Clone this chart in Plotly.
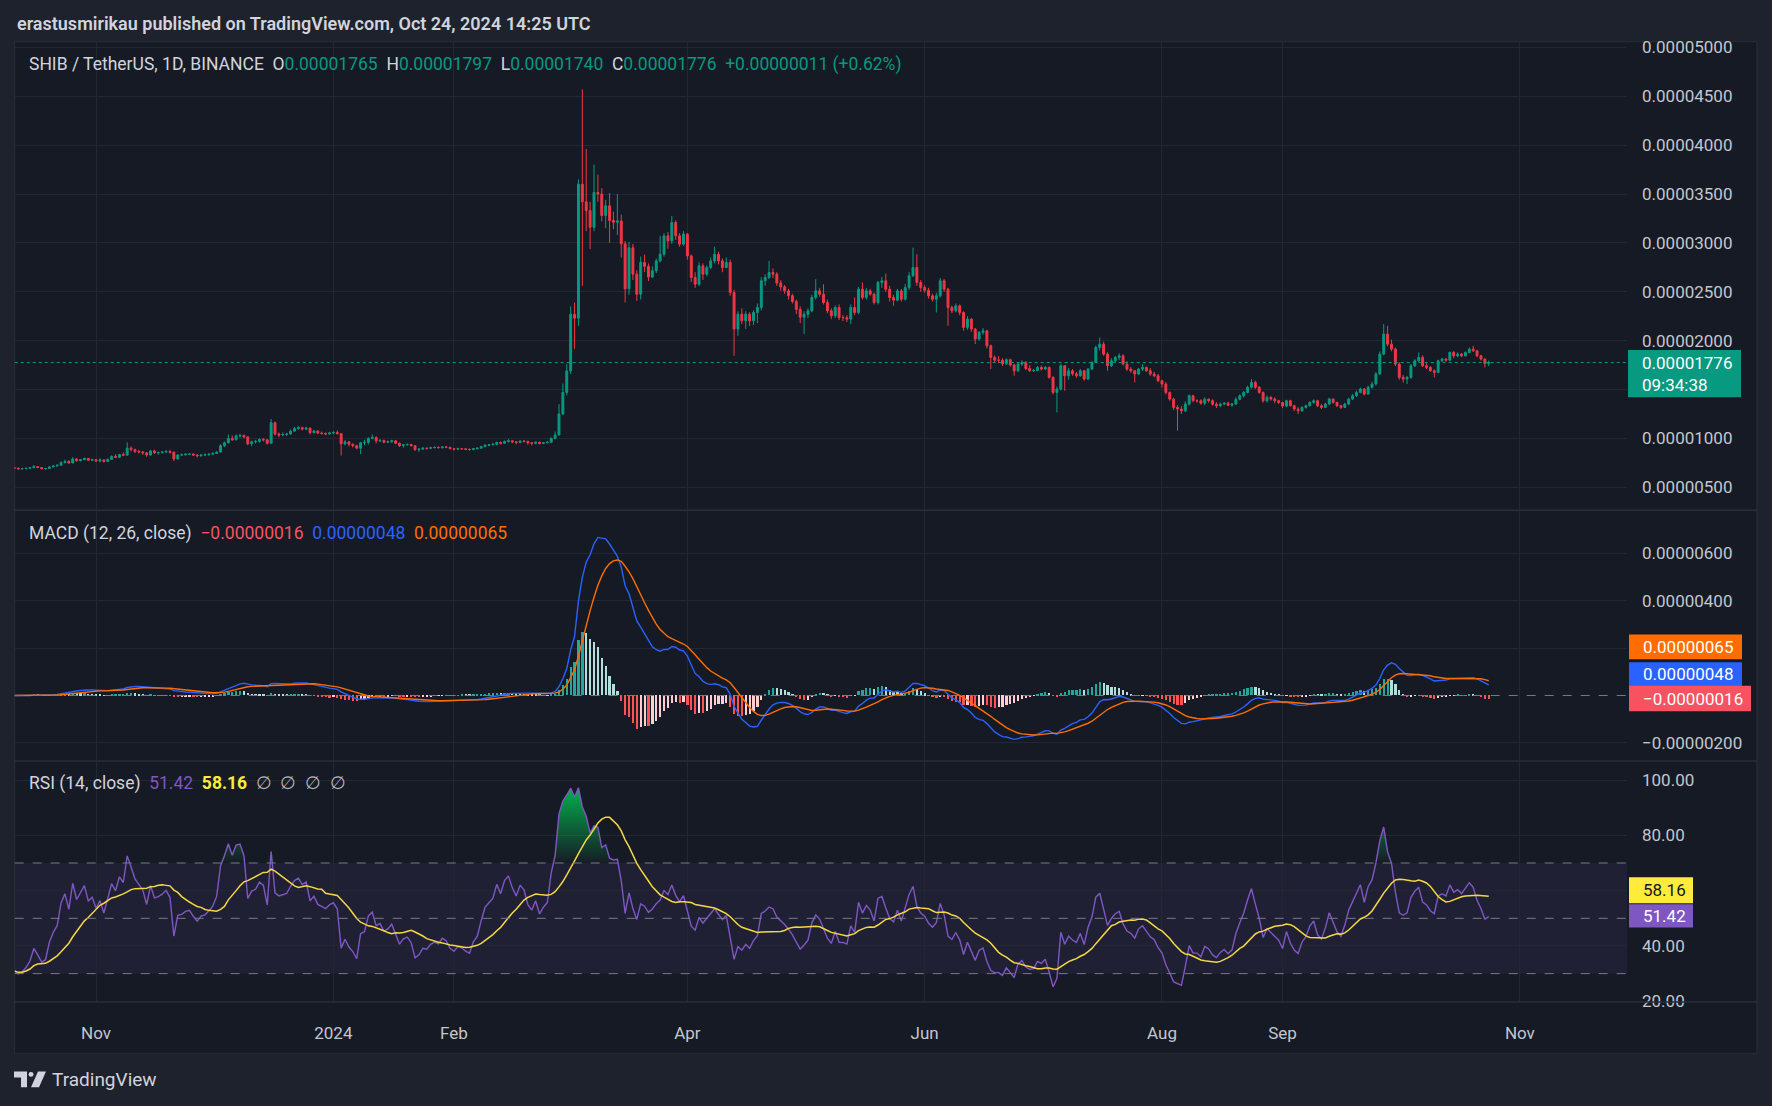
import numpy as np
import pandas as pd
import plotly.graph_objects as go

# ---------------- DATA (prices in units of 1e-8 USDT) ----------------
UNIT = 1e-8
START_DATE = "2023-10-11"
FIRST_OPEN = 700
RSI_START = 31.0   # RSI level read at the left edge of the reference

close_oct23 = [695,688,690,694,700,712,702,690,692,708,718,725,752,765,748,790,770,782,795,776,782]
high_oct23 = [712,702,698,700,706,728,716,706,698,716,726,734,766,782,778,808,796,790,802,798,792]
low_oct23 = [684,680,682,686,690,696,694,684,680,688,704,712,720,744,740,746,764,768,778,770,772]

close_nov23 = [768,780,764,785,815,806,835,828,900,885,868,860,852,830,872,852,855,860,868,858,790,830,832,838,840,830,822,830,832,838]
high_nov23 = [790,796,784,794,826,838,842,858,960,918,896,880,872,860,882,884,866,868,876,878,866,838,846,850,848,846,838,840,846,846]
low_nov23 = [760,756,752,760,780,798,800,820,826,868,850,846,832,812,824,840,834,846,852,846,768,782,818,824,830,820,806,812,822,826]

close_dec23 = [845,860,925,955,1000,985,1025,1030,1015,945,965,970,990,985,950,1160,1045,1035,1040,1045,1075,1100,1110,1095,1105,1060,1075,1055,1050,1045,1055]
high_dec23 = [858,868,940,968,1040,1030,1042,1048,1040,1020,978,985,1000,1004,990,1198,1172,1060,1062,1058,1090,1118,1126,1120,1118,1110,1088,1085,1070,1062,1068]
low_dec23 = [832,840,855,912,948,975,980,1008,1000,930,920,948,955,968,938,945,1030,1010,1022,1025,1038,1066,1088,1080,1084,1040,1050,1044,1038,1032,1040]

close_jan24 = [1060,1048,945,965,940,925,900,955,960,1000,1010,975,980,960,965,975,950,925,935,938,925,885,890,900,898,905,908,905,912,908,895]
high_jan24 = [1074,1082,1056,982,972,948,934,962,985,1012,1040,1022,990,985,978,986,980,958,942,948,944,930,902,910,906,914,916,918,920,924,914]
low_jan24 = [1044,1040,823,930,918,908,888,840,930,938,990,950,962,950,952,956,940,912,905,926,918,872,860,882,884,890,898,896,896,900,886]

close_feb24 = [890,895,893,888,885,895,900,915,930,935,940,958,950,968,975,965,958,972,968,955,950,960,948,955,960,1000,1035,1250,1470]
high_feb24 = [900,904,902,898,896,902,908,924,940,942,952,966,968,978,992,984,972,980,982,978,962,968,966,962,972,1010,1070,1350,1560]
low_feb24 = [876,884,886,880,874,880,886,896,910,922,928,930,936,944,958,952,940,950,958,936,928,940,938,942,950,952,990,1030,1240]

close_mar24 = [1690,2270,2230,3600,3420,3330,3160,3515,3500,3280,3380,3230,3210,3225,2990,2530,2950,2680,2475,2800,2760,2650,2714,2816,2884,3072,3020,3208,3072,2987,3090]
high_mar24 = [1760,2350,2390,3650,4570,3960,3420,3800,3700,3560,3440,3510,3320,3500,3290,3020,3010,2990,2720,2860,2880,2790,2760,2840,3070,3100,3110,3276,3230,3100,3120]
low_mar24 = [1440,1660,1914,2152,2560,3120,2935,3120,3420,3220,3150,3000,3140,3080,2850,2390,2470,2620,2405,2420,2700,2610,2640,2690,2800,2860,2940,2990,3030,2960,2970]

close_apr24 = [2867,2646,2578,2765,2680,2748,2816,2884,2816,2748,2800,2493,2118,2271,2203,2271,2203,2288,2340,2612,2646,2697,2680,2590,2550,2510,2460,2400,2320,2240]
high_apr24 = [3100,2880,2700,2800,2790,2770,2850,2960,2910,2840,2850,2830,2520,2300,2330,2300,2290,2310,2380,2650,2680,2816,2740,2700,2620,2570,2530,2480,2420,2350]
low_apr24 = [2830,2600,2540,2560,2620,2660,2730,2790,2780,2700,2740,2460,1845,2050,2170,2120,2150,2160,2180,2310,2560,2630,2640,2560,2510,2480,2420,2380,2270,2180]

close_may24 = [2270,2305,2441,2509,2475,2390,2305,2254,2339,2237,2235,2220,2339,2288,2526,2441,2509,2475,2390,2595,2612,2526,2441,2414,2509,2424,2543,2663,2748,2595,2543]
high_may24 = [2300,2330,2470,2629,2540,2577,2420,2330,2360,2370,2260,2260,2370,2441,2550,2595,2540,2530,2490,2612,2650,2686,2560,2470,2530,2530,2580,2700,2952,2884,2620]
low_may24 = [2067,2230,2290,2420,2450,2370,2280,2220,2230,2210,2200,2190,2169,2260,2270,2420,2420,2460,2370,2370,2540,2500,2400,2356,2400,2400,2410,2520,2650,2560,2500]

close_jun24 = [2516,2458,2424,2458,2612,2526,2339,2305,2356,2288,2135,2220,2118,2016,2084,2100,1947,1828,1800,1800,1765,1805,1750,1692,1760,1777,1715,1692,1695,1726]
high_jun24 = [2570,2540,2480,2490,2640,2630,2540,2360,2380,2370,2300,2250,2230,2130,2100,2130,2110,1960,1850,1840,1820,1820,1815,1765,1775,1800,1790,1750,1710,1740]
low_jun24 = [2490,2430,2400,2288,2440,2500,2152,2280,2290,2260,2100,2110,2090,1965,2000,2060,1920,1709,1780,1770,1740,1750,1735,1641,1680,1740,1700,1680,1680,1685]

close_jul24 = [1709,1726,1624,1470,1505,1743,1641,1692,1660,1641,1692,1607,1709,1777,1930,1964,1862,1743,1794,1828,1845,1760,1709,1692,1658,1709,1726,1692,1658,1641,1590]
high_jul24 = [1745,1740,1735,1635,1530,1760,1750,1720,1710,1680,1710,1700,1720,1790,1950,2033,1990,1880,1820,1845,1870,1860,1790,1730,1700,1720,1760,1735,1720,1680,1660]
low_jul24 = [1695,1700,1610,1450,1266,1490,1487,1600,1640,1620,1630,1590,1600,1700,1770,1900,1845,1692,1730,1780,1800,1745,1690,1670,1573,1650,1690,1680,1640,1625,1575]

close_aug24 = [1556,1470,1402,1317,1300,1283,1351,1436,1385,1385,1360,1400,1385,1350,1334,1351,1360,1340,1351,1400,1436,1470,1522,1573,1522,1470,1385,1419,1402,1385,1368]
high_aug24 = [1600,1575,1480,1415,1340,1330,1380,1450,1445,1400,1400,1420,1410,1400,1370,1365,1372,1375,1362,1420,1450,1485,1540,1607,1590,1535,1480,1440,1435,1420,1395]
low_aug24 = [1520,1450,1385,1290,1079,1250,1270,1335,1370,1365,1345,1340,1365,1335,1310,1320,1340,1330,1325,1345,1390,1420,1460,1510,1505,1455,1365,1365,1385,1360,1350]

close_sep24 = [1330,1385,1334,1300,1283,1317,1334,1368,1385,1334,1317,1351,1402,1368,1334,1317,1351,1402,1436,1470,1505,1453,1522,1556,1658,1862,2067,1964,1913,1760]
high_sep24 = [1375,1395,1395,1345,1320,1330,1345,1380,1400,1395,1350,1365,1415,1410,1375,1345,1365,1415,1455,1490,1520,1515,1540,1580,1680,1890,2169,2152,2010,1930]
low_sep24 = [1310,1320,1325,1280,1250,1270,1305,1325,1355,1320,1300,1310,1340,1355,1320,1300,1310,1340,1395,1425,1460,1440,1450,1510,1540,1650,1850,1940,1890,1740]

close_oct24 = [1624,1607,1624,1743,1794,1828,1743,1726,1692,1675,1794,1811,1800,1879,1845,1862,1845,1879,1913,1896,1845,1811,1765,1776]
high_oct24 = [1780,1650,1640,1760,1810,1879,1850,1770,1740,1705,1805,1825,1820,1890,1895,1880,1875,1890,1930,1947,1905,1855,1820,1797]
low_oct24 = [1600,1570,1556,1610,1730,1780,1730,1710,1680,1624,1665,1780,1785,1790,1820,1830,1830,1835,1870,1885,1830,1795,1726,1740]

# axis ticks (labels hidden behind value boxes are left blank)
price_ticks = [500, 1000, 1500, 2000, 2500, 3000, 3500, 4000, 4500, 5000]
price_hidden = [1500]
macd_ticks = [-2e-6, 2e-6, 4e-6, 6e-6]
macd_ticktext = ["\u22120.00000200", "", "0.00000400", "0.00000600"]
rsi_ticks = [20, 40, 60, 80, 100]
rsi_ticktext = ["20.00", "40.00", "", "80.00", "100.00"]
time_tickvals = ["2023-11-01", "2024-01-01", "2024-02-01", "2024-04-01",
                 "2024-06-01", "2024-08-01", "2024-09-01", "2024-11-01"]
time_ticktext = ["Nov", "2024", "Feb", "Apr", "Jun", "Aug", "Sep", "Nov"]

# texts shown in the header / value labels
title_text = "erastusmirikau published on TradingView.com, Oct 24, 2024 14:25 UTC"
ohlc_text = ["0.00001765", "0.00001797", "0.00001740", "0.00001776"]
change_text = "+0.00000011 (+0.62%)"
macd_vals_text = ["\u22120.00000016", "0.00000048", "0.00000065"]   # hist, macd, signal
rsi_vals_text = ["51.42", "58.16"]
countdown_text = "09:34:38"

# ---------------- BUILD SERIES ----------------
closes_e8 = sum([close_oct23, close_nov23, close_dec23, close_jan24, close_feb24, close_mar24,
                 close_apr24, close_may24, close_jun24, close_jul24, close_aug24, close_sep24,
                 close_oct24], [])
highs_e8 = sum([high_oct23, high_nov23, high_dec23, high_jan24, high_feb24, high_mar24,
                high_apr24, high_may24, high_jun24, high_jul24, high_aug24, high_sep24,
                high_oct24], [])
lows_e8 = sum([low_oct23, low_nov23, low_dec23, low_jan24, low_feb24, low_mar24,
               low_apr24, low_may24, low_jun24, low_jul24, low_aug24, low_sep24,
               low_oct24], [])

closes = np.array(closes_e8, float) * UNIT
opens = np.concatenate([[FIRST_OPEN * UNIT], closes[:-1]])
highs = np.maximum.reduce([np.array(highs_e8, float) * UNIT, opens, closes])
lows = np.minimum.reduce([np.array(lows_e8, float) * UNIT, opens, closes])
dates = pd.date_range(START_DATE, periods=len(closes), freq="D")
n = len(closes)

s = pd.Series(closes)
macd = s.ewm(span=12, adjust=False).mean() - s.ewm(span=26, adjust=False).mean()
signal = macd.ewm(span=9, adjust=False).mean()
hist = macd - signal
prev = hist.shift(1).fillna(0)
hist_col = np.where(hist >= 0,
                    np.where(hist >= prev, "#26a69a", "#b2dfdb"),
                    np.where(hist < prev, "#ff5252", "#ffcdd2"))

# RSI (Wilder smoothing), seeded so that it starts at the level seen on the reference
d = np.diff(closes, prepend=closes[0])
g = np.clip(d, 0, None)
l = np.clip(-d, 0, None)
seed = np.mean(np.abs(d[1:15]))
ag = np.empty(n)
al = np.empty(n)
al[0] = seed
ag[0] = seed * RSI_START / (100 - RSI_START)
for i in range(1, n):
    ag[i] = ag[i - 1] + (g[i] - ag[i - 1]) / 14
    al[i] = al[i - 1] + (l[i] - al[i - 1]) / 14
rsi = pd.Series(100 - 100 / (1 + ag / al))
rsi_ma = rsi.rolling(14, min_periods=1).mean()

# ---------------- LAYOUT HELPERS ----------------
W, H = 1772, 1106
def px(x): return x / W
def py(y): return 1 - y / H
def Y(ref_y):
    # vertical page position (px) for a position measured on the reference picture
    return 1.1425 * ref_y - 2.97

BG = "#161a25"
OUTER = "#1e222d"
GRID = "#232733"
SEP = "#2a2e39"
TXT = "#d1d4dc"
AX = "#c3c6ce"
FONT = "Roboto"
UP, DOWN = "#089981", "#f23645"

x_range = ["2023-10-11 02:00", "2024-11-28 13:00"]
day_ms = 86400000

P_TOP, P_BOT = Y(36), Y(451)
M_TOP, M_BOT = Y(451), Y(673)
R_TOP, R_BOT = Y(673), Y(886.5)
F_BOT = Y(932)

fig = go.Figure()

fig.add_trace(go.Candlestick(
    x=dates, open=opens, high=highs, low=lows, close=closes,
    increasing=dict(line=dict(color=UP, width=1), fillcolor=UP),
    decreasing=dict(line=dict(color=DOWN, width=1), fillcolor=DOWN),
    whiskerwidth=0, xaxis="x", yaxis="y", hoverinfo="skip"))

fig.add_trace(go.Bar(x=dates, y=hist, marker=dict(color=list(hist_col), line=dict(width=0)),
                     width=day_ms * 0.45, xaxis="x2", yaxis="y2"))
fig.add_trace(go.Scatter(x=dates, y=macd, mode="lines", line=dict(color="#2962ff", width=1.4),
                         xaxis="x2", yaxis="y2"))
fig.add_trace(go.Scatter(x=dates, y=signal, mode="lines", line=dict(color="#ff6d00", width=1.4),
                         xaxis="x2", yaxis="y2"))

# RSI overbought / oversold gradient fills
fig.add_trace(go.Scatter(x=dates, y=np.full(n, 70.0), mode="lines", line=dict(width=0),
                         xaxis="x3", yaxis="y3"))
fig.add_trace(go.Scatter(x=dates, y=np.maximum(rsi, 70), mode="lines", line=dict(width=0),
                         fill="tonexty",
                         fillgradient=dict(type="vertical", start=70, stop=100,
                                           colorscale=[[0, "rgba(0,200,83,0)"], [1, "rgba(0,200,83,0.95)"]]),
                         xaxis="x3", yaxis="y3"))
fig.add_trace(go.Scatter(x=dates, y=np.full(n, 30.0), mode="lines", line=dict(width=0),
                         xaxis="x3", yaxis="y3"))
fig.add_trace(go.Scatter(x=dates, y=np.minimum(rsi, 30), mode="lines", line=dict(width=0),
                         fill="tonexty",
                         fillgradient=dict(type="vertical", start=0, stop=30,
                                           colorscale=[[0, "rgba(242,54,69,0.95)"], [1, "rgba(242,54,69,0)"]]),
                         xaxis="x3", yaxis="y3"))
fig.add_trace(go.Scatter(x=dates, y=rsi, mode="lines", line=dict(color="#7e57c2", width=1.4),
                         xaxis="x3", yaxis="y3"))
fig.add_trace(go.Scatter(x=dates, y=rsi_ma, mode="lines", line=dict(color="#f5d742", width=1.5),
                         xaxis="x3", yaxis="y3"))

xcommon = dict(type="date", range=x_range, tickvals=time_tickvals, showgrid=True, gridcolor=GRID,
               gridwidth=1, zeroline=False, showline=False, fixedrange=True, ticks="",
               domain=[px(14.7), px(1627)])
ycommon = dict(side="right", showgrid=True, gridcolor=GRID, zeroline=False, showline=False,
               ticks="", fixedrange=True, ticklabelstandoff=14,
               tickfont=dict(family=FONT, size=17, color=AX))

fig.update_layout(
    width=W, height=H, margin=dict(l=0, r=0, t=0, b=0),
    paper_bgcolor=OUTER, plot_bgcolor=BG, showlegend=False, hovermode=False,
    font=dict(family=FONT, color=TXT),
    bargap=0,
    xaxis=dict(**xcommon, anchor="y", showticklabels=False, rangeslider=dict(visible=False)),
    xaxis2=dict(**xcommon, anchor="y2", matches="x", showticklabels=False),
    xaxis3=dict(**xcommon, anchor="y3", matches="x", showticklabels=True, ticktext=time_ticktext,
                ticklabelstandoff=int(round(Y(913) - R_BOT - 11)), tickfont=dict(family=FONT, size=17, color=AX)),
    yaxis=dict(**ycommon, anchor="x", domain=[py(P_BOT), py(P_TOP)], range=[264.5 * UNIT, 5058 * UNIT],
               tickvals=[v * UNIT for v in price_ticks],
               ticktext=["" if v in price_hidden else "%.8f" % (v * UNIT) for v in price_ticks]),
    yaxis2=dict(**ycommon, anchor="x2", domain=[py(M_BOT), py(M_TOP)], range=[-2.76e-6, 7.81e-6],
                tickvals=macd_ticks, ticktext=macd_ticktext),
    yaxis3=dict(**ycommon, anchor="x3", domain=[py(R_BOT), py(R_TOP)], range=[19.75, 106.9],
                tickvals=rsi_ticks, ticktext=rsi_ticktext),
)

shapes = []
# chart frame
shapes.append(dict(type="rect", xref="paper", yref="paper", x0=px(14.7), x1=px(1757), y0=py(F_BOT), y1=py(P_TOP),
                   fillcolor=BG, line=dict(color=SEP, width=1), layer="below"))
# pane separators
for yy in [P_BOT, M_BOT, R_BOT]:
    shapes.append(dict(type="line", xref="paper", yref="paper", x0=px(14.7), x1=px(1757), y0=py(yy), y1=py(yy),
                       line=dict(color=SEP, width=1.5)))
# RSI band
shapes.append(dict(type="rect", xref="x3 domain", yref="y3", x0=0, x1=1, y0=30, y1=70,
                   fillcolor="rgba(126,87,194,0.10)", line=dict(width=0), layer="below"))
for lv in [70, 50, 30]:
    shapes.append(dict(type="line", xref="x3 domain", yref="y3", x0=0, x1=1, y0=lv, y1=lv,
                       line=dict(color="#787b86", width=1, dash="dash")))
# MACD zero line
shapes.append(dict(type="line", xref="x2 domain", yref="y2", x0=0, x1=1, y0=0, y1=0,
                   line=dict(color="#787b86", width=1, dash="dash")))
# last price dotted line
shapes.append(dict(type="line", xref="x domain", yref="y", x0=0, x1=1, y0=closes[-1], y1=closes[-1],
                   line=dict(color=UP, width=1, dash="dot")))

annotations = []

def label_box(x0, x1, ry0, ry1, color, text, tcolor="white"):
    y0, y1 = Y(ry0), Y(ry1)
    shapes.append(dict(type="rect", xref="paper", yref="paper", x0=px(x0), x1=px(x1), y0=py(y1), y1=py(y0),
                       fillcolor=color, line=dict(width=0)))
    annotations.append(dict(xref="paper", yref="paper", x=px(x0 + 12), y=py((y0 + y1) / 2),
                            xanchor="left", yanchor="middle", showarrow=False, text=text, align="left",
                            font=dict(family=FONT, size=17, color=tcolor)))

label_box(1628, 1741, 309, 351, UP, "%.8f" % closes[-1] + "<br>" + countdown_text)
label_box(1629, 1742, 561, 583, "#ff6d00", macd_vals_text[2])
label_box(1629, 1742, 585.5, 607, "#2962ff", macd_vals_text[1])
label_box(1629, 1751, 606.5, 629, "#f7525f", macd_vals_text[0])
label_box(1629, 1693, 776, 799, "#ffeb3b", rsi_vals_text[1], tcolor="#131722")
label_box(1629, 1693, 800, 820.5, "#7e57c2", rsi_vals_text[0])

NB = "\u00a0"
def span(t, c):
    return '<span style="color:%s">%s</span>' % (c, t)

annotations.append(dict(xref="paper", yref="paper", x=px(14.7), y=py(Y(20)), xanchor="left", yanchor="middle",
                        showarrow=False, text=title_text, font=dict(family=FONT, size=18, color=TXT, weight=600)))

ohlc_line = ("SHIB / TetherUS, 1D, BINANCE" + NB * 2 +
             "O" + span(ohlc_text[0], UP) + NB * 2 + "H" + span(ohlc_text[1], UP) + NB * 2 +
             "L" + span(ohlc_text[2], UP) + NB * 2 + "C" + span(ohlc_text[3], UP) + NB * 2 +
             span(change_text, UP))
annotations.append(dict(xref="paper", yref="paper", x=px(27), y=py(Y(56)), xanchor="left", yanchor="middle",
                        showarrow=False, text=ohlc_line, font=dict(family=FONT, size=17.5, color=TXT)))

macd_line_txt = ("MACD (12, 26, close)" + NB * 2 + span(macd_vals_text[0], "#f7525f") + NB * 2 +
                 span(macd_vals_text[1], "#2962ff") + NB * 2 + span(macd_vals_text[2], "#ff6d00"))
annotations.append(dict(xref="paper", yref="paper", x=px(27), y=py(Y(472)), xanchor="left", yanchor="middle",
                        showarrow=False, text=macd_line_txt, font=dict(family=FONT, size=17.5, color=TXT)))

rsi_line_txt = ("RSI (14, close)" + NB * 2 + span(rsi_vals_text[0], "#7e57c2") + NB * 2 +
                span("<b>" + rsi_vals_text[1] + "</b>", "#ffeb3b") + NB * 2 +
                span((NB * 2).join(["\u2205"] * 4), "#b2b5be"))
annotations.append(dict(xref="paper", yref="paper", x=px(27), y=py(Y(693)), xanchor="left", yanchor="middle",
                        showarrow=False, text=rsi_line_txt, font=dict(family=FONT, size=17.5, color=TXT)))

# TradingView logo
LT, LB = Y(948), Y(962)
LM = LT + (LB - LT) * 0.38
def ppath(points):
    return "M " + " L ".join("%f %f" % (px(a), py(b)) for a, b in points) + " Z"
shapes.append(dict(type="path", xref="paper", yref="paper",
                   path=ppath([(14, LT), (27, LT), (27, LB), (21, LB), (21, LM), (14, LM)]),
                   fillcolor=TXT, line=dict(width=0)))
shapes.append(dict(type="circle", xref="paper", yref="paper", x0=px(28.5), x1=px(33.5), y0=py(LT + 5.5), y1=py(LT + 0.5),
                   fillcolor=TXT, line=dict(width=0)))
shapes.append(dict(type="path", xref="paper", yref="paper",
                   path=ppath([(38, LT), (46, LT), (39, LB), (31, LB)]),
                   fillcolor=TXT, line=dict(width=0)))
annotations.append(dict(xref="paper", yref="paper", x=px(50), y=py(Y(955)), xanchor="left", yanchor="middle",
                        showarrow=False, text="TradingView", font=dict(family=FONT, size=19, color=TXT)))

fig.update_layout(shapes=shapes, annotations=annotations)

page_js = (
    "document.documentElement.style.margin='0';document.documentElement.style.overflow='hidden';"
    "document.body.style.margin='0';document.body.style.padding='0';document.body.style.overflow='hidden';"
    "document.body.style.background='%s';"
    "var gd=document.getElementById('{plot_id}');gd.style.position='absolute';gd.style.left='0px';gd.style.top='0px';"
) % OUTER
fig.write_html("out.html", config={"displayModeBar": False}, post_script=page_js)
